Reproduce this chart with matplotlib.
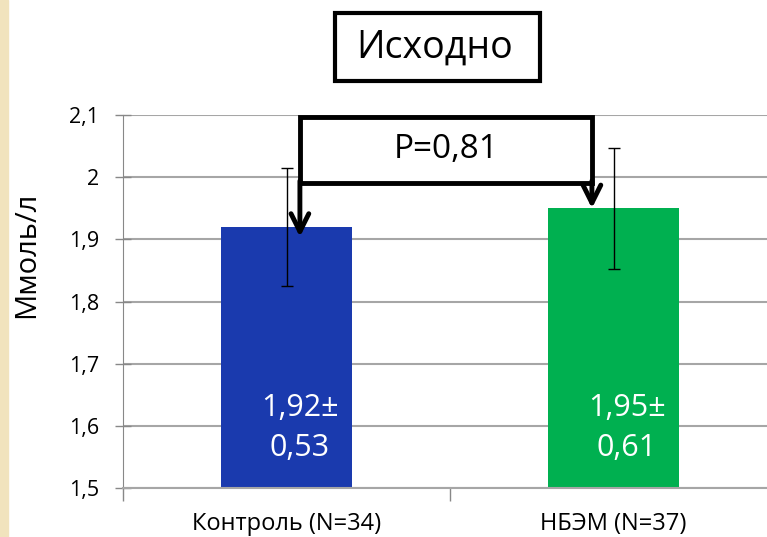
import numpy as np
import matplotlib.pyplot as plt
from matplotlib.patches import Rectangle

plt.rcParams['font.family'] = ['Open Sans', 'DejaVu Sans']

groups = ['Контроль (N=34)', 'НБЭМ (N=37)']
means = [1.92, 1.95]
errs = [0.095, 0.097]
value_labels = ['1,92±\n0,53', '1,95±\n0,61']
colors = ['#1a3aae', '#00b050']
yticks = [1.5, 1.6, 1.7, 1.8, 1.9, 2.0, 2.1]
ytick_labels = ['1,5', '1,6', '1,7', '1,8', '1,9', '2', '2,1']
p_text = 'P=0,81'
title = 'Исходно'

fig = plt.figure(figsize=(7.67, 5.37), dpi=100)
fig.patches.append(Rectangle((0, 0), 8 / 767, 1, transform=fig.transFigure,
                             color='#f1e3bd', zorder=0))

ax = fig.add_axes([123 / 767, 0.0907, 654 / 767, 0.6952])
x = np.arange(len(groups))
ax.bar(x, means, width=0.4, color=colors, zorder=2)
ax.errorbar(x, means, yerr=errs, fmt='none', ecolor='black', elinewidth=1,
            capsize=4.5, capthick=1, zorder=3)

ax.set_xlim(-0.5, 1.5)
ax.set_ylim(1.5, 2.1)
ax.set_yticks(yticks)
ax.set_yticklabels(ytick_labels, fontsize=15.5)
ax.tick_params(axis='y', direction='inout', length=12, width=1, color='#888888', pad=11)
ax.yaxis.grid(True, color='#a6a6a6', linewidth=1.5, zorder=0)
ax.set_axisbelow(True)

ax.set_xticks(x)
ax.set_xticklabels(groups, fontsize=17)
ax.tick_params(axis='x', length=0, pad=17)
ax.set_xticks([-0.5, 0.5, 1.5], minor=True)
ax.tick_params(axis='x', which='minor', direction='out', length=9, width=1, color='#888888')

for s in ['top', 'right']:
    ax.spines[s].set_visible(False)
ax.spines['left'].set_color('#888888')
ax.spines['bottom'].set_color('#a6a6a6')
ax.spines['bottom'].set_linewidth(1.5)

for i in range(len(groups)):
    ax.text(x[i] + 0.04, 1.597, value_labels[i], color='white', fontsize=22,
            ha='center', va='center', linespacing=1.45, zorder=4)

fig.text(27 / 767, 1 - 255 / 537, 'Ммоль/л', rotation=90, fontsize=21,
         ha='center', va='center')

# P-value bracket
bx0, bx1 = 0.041, 0.934
by0, by1 = 1.991, 2.097
ax.add_patch(Rectangle((bx0, by0), bx1 - bx0, by1 - by0, facecolor='white',
                       edgecolor='black', linewidth=3.5, clip_on=False, zorder=5))
ax.text((bx0 + bx1) / 2, (by0 + by1) / 2, p_text, fontsize=24,
        ha='center', va='center', zorder=6)
tips = [means[0] - 0.016, means[1]]
for bx, tip in zip([bx0, bx1], tips):
    ax.annotate('', xy=(bx, tip), xytext=(bx, by0 + 0.003),
                arrowprops=dict(arrowstyle='->', lw=3.5, color='black',
                                mutation_scale=32, shrinkA=0, shrinkB=0),
                zorder=6)

# title box
fig.patches.append(Rectangle((335 / 767, 1 - 81 / 537), 205 / 767, 68 / 537,
                             transform=fig.transFigure, facecolor='white',
                             edgecolor='black', linewidth=3))
fig.text(435 / 767, 1 - 48 / 537, title, fontsize=27, ha='center', va='center')

fig.savefig('out.png', dpi=100)
